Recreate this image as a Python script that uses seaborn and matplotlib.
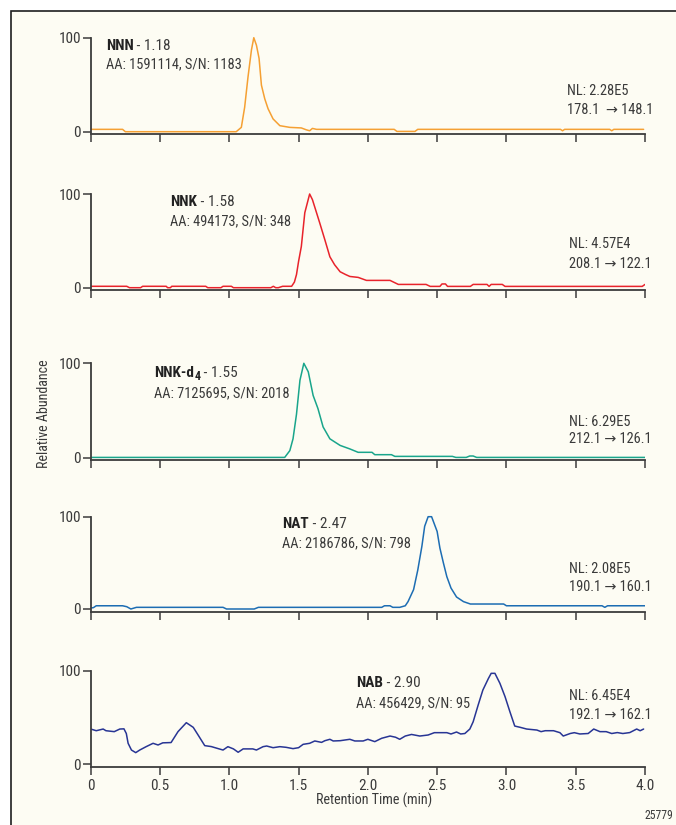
import matplotlib
matplotlib.use("Agg")
import matplotlib.pyplot as plt
import seaborn as sns
import pandas as pd
from matplotlib.patches import Rectangle
from matplotlib import font_manager as fm

# ---------------- data ----------------
compounds = ["NNN", "NNK", "NNK-d", "NAT", "NAB"]
subscripts = ["", "", "4", "", ""]
rt_labels = [" - 1.18", " - 1.58", " - 1.55", " - 2.47", " - 2.90"]
aa_labels = ["AA: 1591114, S/N: 1183", "AA: 494173, S/N: 348",
             "AA: 7125695, S/N: 2018", "AA: 2186786, S/N: 798",
             "AA: 456429, S/N: 95"]
nl_labels = ["NL: 2.28E5", "NL: 4.57E4", "NL: 6.29E5", "NL: 2.08E5", "NL: 6.45E4"]
transitions = ["178.1  \u2192 148.1", "208.1 \u2192 122.1", "212.1 \u2192 126.1",
               "190.1 \u2192 160.1", "192.1 \u2192 162.1"]
x_ticks = [0, 0.5, 1.0, 1.5, 2.0, 2.5, 3.0, 3.5, 4.0]
x_tick_labels = ["0", "0.5", "1.0", "1.5", "2.0", "2.5", "3.0", "3.5", "4.0"]
y_ticks = [0, 100]
y_tick_labels = ["0", "100"]

nnn_t = [0.0, 0.23, 0.25, 1.05, 1.087, 1.111, 1.135, 1.16, 1.177, 1.196, 1.215, 1.232, 1.256,
         1.28, 1.316, 1.365, 1.437, 1.52, 1.556, 1.58, 1.60, 1.63, 2.19, 2.21, 2.34, 2.36,
         3.39, 3.405, 3.42, 3.745, 3.76, 3.775, 3.99]
nnn_v = [2.5, 2.5, 0, 0, 4.6, 26, 58, 87, 100, 92, 78, 49.5, 35,
         24.4, 13.6, 6.4, 4.6, 4, 2, 1, 3.5, 2.5, 2.5, 0.3, 0.3, 2.5,
         2.5, 1, 2.5, 2.5, 1, 2.5, 2.5]

nnk_t = [0.0, 0.26, 0.28, 0.36, 0.375, 0.545, 0.555, 0.575, 0.585, 0.83, 0.845, 0.94, 0.955,
         1.015, 1.03, 1.30, 1.318, 1.335, 1.354, 1.385, 1.40, 1.45, 1.47, 1.485, 1.50, 1.52,
         1.545, 1.58, 1.60, 1.617, 1.653, 1.69, 1.726, 1.76, 1.80, 1.84, 1.87, 1.93, 1.99,
         2.16, 2.22, 2.42, 2.45, 2.52, 2.535, 2.56, 2.575, 2.59, 2.74, 2.76, 2.86, 2.875,
         2.89, 2.97, 2.99, 3.98, 4.0]
nnk_v = [1.5, 1.5, 0, 0, 1.5, 1.5, 0, 0, 1.5, 1.5, 0, 0, 1.5,
         1.5, 0, 0, 1.5, 0, 0, 1.5, 1.5, 1.5, 6, 14, 28, 44,
         80, 100, 94, 86, 69, 51, 33, 24.5, 17, 14, 12, 11, 7.8,
         7.8, 3.5, 3.5, 1.4, 1.4, 4, 4, 1.4, 1.4, 1.4, 3.5, 3.5, 1.4,
         3.5, 3.5, 1.4, 1.4, 3.5]

d4_t = [0.0, 1.40, 1.437, 1.46, 1.485, 1.51, 1.538, 1.57, 1.605, 1.64, 1.677, 1.726, 1.80,
        1.87, 1.93, 2.03, 2.05, 2.17, 2.195, 2.61, 2.635, 2.71, 2.735, 2.76, 2.785, 4.0]
d4_v = [0.3, 0.3, 7.5, 20, 46, 82, 100, 91, 66, 52, 32.6, 20, 13,
        9.3, 5.7, 5.7, 3.2, 3.2, 1.4, 1.4, 0.3, 0.3, 1.8, 1.8, 0.3, 0.3]

nat_t = [0.0, 0.02, 0.04, 0.23, 0.26, 0.29, 0.33, 0.955, 0.98, 1.18, 1.21, 2.10, 2.12, 2.16,
         2.18, 2.23, 2.27, 2.29, 2.33, 2.36, 2.39, 2.41, 2.435, 2.46, 2.50, 2.52, 2.545, 2.57,
         2.60, 2.64, 2.69, 2.74, 2.98, 3.0, 3.69, 3.71, 3.73, 4.0]
nat_v = [1, 1.5, 3.5, 3.5, 2.5, 0, 1.8, 1.8, 0, 0, 1.8, 1.8, 3.5, 3.5,
         1.8, 1.8, 3.5, 8, 21, 42, 68, 89.6, 100, 100, 84, 66, 50, 35,
         22.7, 13, 8, 5.4, 5.4, 3.5, 3.5, 1.8, 3.5, 3.5]

nab_t = [0.0, 0.04, 0.09, 0.11, 0.17, 0.21, 0.24, 0.257, 0.27, 0.294, 0.325, 0.354, 0.40, 0.45,
         0.486, 0.52, 0.58, 0.63, 0.69, 0.74, 0.775, 0.823, 0.87, 0.92, 0.955, 0.99, 1.03,
         1.064, 1.10, 1.17, 1.196, 1.244, 1.27, 1.316, 1.365, 1.41, 1.46, 1.50, 1.533, 1.58,
         1.617, 1.666, 1.69, 1.726, 1.75, 1.80, 1.87, 1.906, 1.966, 2.0, 2.05, 2.10, 2.16,
         2.20, 2.23, 2.27, 2.315, 2.375, 2.435, 2.48, 2.57, 2.60, 2.64, 2.67, 2.70, 2.736,
         2.76, 2.796, 2.83, 2.87, 2.89, 2.917, 2.953, 2.99, 3.025, 3.06, 3.10, 3.146, 3.22,
         3.25, 3.28, 3.34, 3.386, 3.41, 3.46, 3.49, 3.53, 3.59, 3.63, 3.675, 3.72, 3.76,
         3.80, 3.84, 3.89, 3.94, 3.965, 3.99]
nab_v = [37.8, 36, 37.8, 36, 35, 37.8, 38, 33, 22.5, 15.3, 12.5, 15.3, 18.9, 22.5,
         20.7, 23, 23.3, 35, 44.6, 39.6, 31.4, 20, 19, 16.8, 15.3, 18.9, 16.5,
         12.9, 16.5, 16.5, 15.3, 18.9, 19.6, 17.8, 18.9, 18.2, 16.8, 17.8, 21.4, 22.5,
         25, 23.5, 25.3, 26.8, 25, 25.3, 26.8, 25, 25, 26.8, 24.3, 27.9, 30.3,
         29, 26.8, 30.3, 32, 30.3, 31.4, 33.9, 33.9, 32.5, 34.6, 32.5, 33, 37.8,
         45.6, 63.5, 79.6, 92, 97.5, 97.5, 86.8, 72.5, 56.4, 41, 39.6, 37.8, 36.7,
         35, 36, 36, 33.9, 30.3, 33, 33.9, 32.5, 33, 37.8, 35, 35, 33,
         34, 33, 34, 37.8, 36, 37.8]

series_t = [nnn_t, nnk_t, d4_t, nat_t, nab_t]
series_v = [nnn_v, nnk_v, d4_v, nat_v, nab_v]

# ---------------- style / layout ----------------
colors = ["#f5a033", "#e8232b", "#19a58b", "#1d6db3", "#283594"]
# (pixel of 100, pixel of 0, pixel of axis line)
panel_px = [(37.7, 131.7, 133.5), (194.0, 287.7, 290.0), (363.3, 457.7, 459.5),
            (516.7, 609.0, 612.0), (671.0, 764.3, 766.7)]
label_pos = [  # (x title, y title, y aa, x NL, y NL, y transition)
    (0.108, 87.0, 67.4, 3.435, 38.7, 19.0),
    (0.575, 87.2, 67.0, 3.455, 42.2, 21.0),
    (0.457, 85.4, 64.0, 3.455, 34.0, 15.2),
    (1.381, 87.5, 67.0, 3.455, 38.9, 19.0),
    (1.918, 82.5, 61.0, 3.455, 69.0, 49.0),
]

W, H = 676, 825
sns.set_theme(style="ticks")
available = {f.name for f in fm.fontManager.ttflist}
preferred = ["Roboto Condensed", "Liberation Sans Narrow", "Arial Narrow", "Archivo Narrow",
             "PT Sans Narrow", "Fira Sans Condensed", "IBM Plex Sans Condensed",
             "Encode Sans Condensed", "Asap Condensed", "Barlow Semi Condensed",
             "Open Sans Condensed", "Roboto"]
base_font = next((f for f in preferred if f in available), "DejaVu Sans")
plt.rcParams["font.family"] = [base_font, "DejaVu Sans"]
TXT = "#3a3a3a"
AX = "#3c3c3c"
CREAM = "#fdfcf3"
FS = 11
FS_REG = 10.4

fig = plt.figure(figsize=(W / 100, H / 100), dpi=100, facecolor="white")
fig.patches.append(Rectangle((11 / W, -0.1), 2, 1 - 11 / H + 0.1, transform=fig.transFigure,
                             facecolor=CREAM, edgecolor="#1e1e1e", lw=1.2, zorder=-10))

x0_px, x4_px = 90.7, 645.0
for i in range(5):
    p100, p0, pax = panel_px[i]
    s = (p0 - p100) / 100.0
    ymin = -(pax - p0) / s
    ymax = 102.0
    top_px = p100 - 2.0 * s
    ax = fig.add_axes([x0_px / W, 1 - pax / H, (x4_px - x0_px) / W, (pax - top_px) / H])
    ax.set_facecolor("none")
    df = pd.DataFrame({"t": series_t[i], "v": series_v[i]})
    sns.lineplot(data=df, x="t", y="v", ax=ax, color=colors[i], lw=1.1,
                 estimator=None, sort=False)
    ax.set_xlim(0, 4.0)
    ax.set_ylim(ymin, ymax)
    ax.set_xlabel("")
    ax.set_ylabel("")
    for sp in ["top", "right"]:
        ax.spines[sp].set_visible(False)
    ax.spines["left"].set_bounds(ymin, 100)
    ax.spines["bottom"].set_bounds(0, 4.0)
    for sp in ["left", "bottom"]:
        ax.spines[sp].set_color(AX)
        ax.spines[sp].set_linewidth(1.3)
    ax.set_xticks(x_ticks)
    ax.set_yticks(y_ticks)
    ax.set_yticklabels(y_tick_labels)
    if i == 4:
        ax.set_xticklabels(x_tick_labels)
    else:
        ax.set_xticklabels([])
    ax.tick_params(axis="both", direction="out", length=5.5, width=1.1, color=AX,
                   labelsize=FS, labelcolor=TXT)
    ax.tick_params(axis="y", pad=1.5)
    ax.tick_params(axis="x", pad=3)

    xt, yt, ya, xn, yn, ytr = label_pos[i]
    t1 = ax.text(xt, yt, compounds[i], fontsize=FS, fontweight="bold", color="#222222",
                 va="baseline", ha="left")
    anchor = t1
    if subscripts[i]:
        anchor = ax.annotate(subscripts[i], xy=(1, 0), xycoords=t1, xytext=(0.3, -2.2),
                             textcoords="offset points", fontsize=FS * 0.78,
                             fontweight="bold", color="#222222", va="bottom", ha="left")
    ax.annotate(rt_labels[i], xy=(1, 0), xycoords=(anchor, t1), fontsize=FS, color=TXT,
                va="bottom", ha="left")
    ax.text(xt, ya, aa_labels[i], fontsize=FS_REG, color=TXT, va="baseline", ha="left")
    ax.text(xn, yn, nl_labels[i], fontsize=FS_REG, color=TXT, va="baseline", ha="left")
    ax.text(xn, ytr, transitions[i], fontsize=FS_REG, color=TXT, va="baseline", ha="left")

fig.text(44.3 / W, 1 - 413.5 / H, "Relative Abundance", rotation=90, fontsize=10.1,
         color=TXT, ha="center", va="center")
fig.text(374 / W, 1 - 800 / H, "Retention Time (min)", fontsize=10.2, color=TXT,
         ha="center", va="center")
fig.text(673 / W, 1 - 815.5 / H, "25779", fontsize=8.5, color=TXT, ha="right", va="center")

fig.savefig("out.png", dpi=100, facecolor="white")
